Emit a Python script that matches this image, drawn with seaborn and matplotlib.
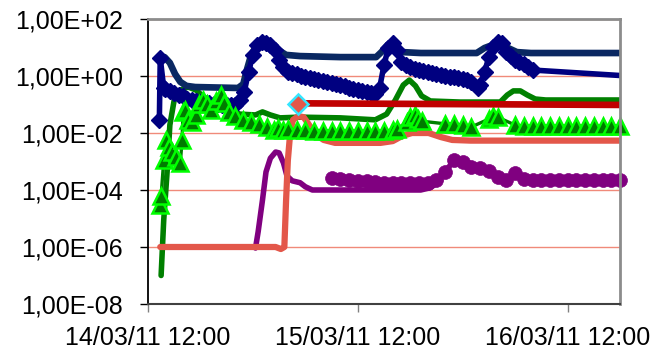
import numpy as np
import pandas as pd
import matplotlib
matplotlib.use("Agg")
import matplotlib.pyplot as plt
import matplotlib.dates as mdates
from matplotlib.ticker import FixedLocator, FuncFormatter, NullLocator
import seaborn as sns

# ---------------- data (hours after 14/03/11 12:00, values) ----------------
A_h = [1.9, 2.5, 3.1, 3.7, 4.4, 5.4, 10.3, 10.9, 11.3, 11.8, 12.4, 13.1, 14.0, 14.9, 15.8, 17.4,
       22.0, 26.1, 26.7, 27.4, 28.2, 29.1, 31.2, 37.6, 38.5, 39.4, 40.3, 41.2, 42.2, 43.8, 58.6]
A_v = [4.6, 2.9, 1.17, 0.62, 0.45, 0.41, 0.38, 0.52, 1.6, 5.5, 11.3, 12.2, 11.3, 8.2, 5.5, 5.0,
       4.6, 4.6, 6.9, 12.2, 11.3, 6.9, 6.4, 6.4, 9.6, 12.2, 14.4, 9.6, 6.9, 6.4, 6.4]

B_h = [1.3, 1.4, 1.8, 2, 2.5, 3, 3.5, 4, 4.5, 5, 5.5, 6, 6.5, 7, 7.5, 8, 8.5, 9, 9.5, 10,
       10.5, 11, 11.5, 12, 12.5, 13, 13.5, 14, 14.5, 15, 15.5, 16, 16.5, 17, 17.5, 18, 18.5, 19,
       19.5, 20, 20.5, 21, 21.5, 22, 22.5, 23, 23.5, 24, 24.5, 25, 25.5, 26, 26.5, 27, 27.5, 28,
       28.5, 29, 29.5, 30, 30.5, 31, 31.5, 32, 32.5, 33, 33.5, 34, 34.5, 35, 35.5, 36, 36.5, 37,
       37.7, 38, 38.5, 39, 39.5, 40, 40.5, 41, 41.5, 42, 42.5, 43, 43.5, 44, 58.6]
B_v = [0.029, 4.3, 0.38, 0.35, 0.30, 0.25, 0.215, 0.2, 0.16, 0.144, 0.133, 0.122, 0.117, 0.113,
       0.108, 0.104, 0.1, 0.096, 0.096, 0.096,
       0.144, 0.27, 1.38, 5.5, 12.2, 15.6, 14.4, 12.2, 8.2, 3.6, 2.07, 1.38, 1.27, 1.17, 1.0, 0.92,
       0.85, 0.78, 0.72, 0.67, 0.62, 0.57, 0.52, 0.48, 0.43, 0.38, 0.35, 0.32, 0.30, 0.27, 0.25,
       0.23, 0.38, 2.43, 9.6, 14.4, 8.2, 3.1, 2.43, 2.07, 1.83, 1.62, 1.5, 1.38, 1.27, 1.17, 1.08,
       1.0, 0.96, 0.92, 0.85, 0.78, 0.7, 0.62,
       0.38, 0.48, 1.38, 4.6, 10.4, 15.6, 14.4, 6.9, 5.0, 3.6, 3.1, 2.6, 2.07, 1.62, 0.85]

C_h = [17.2, 58.6]
C_v = [0.11, 0.095]

M_h = [17.2]
M_v = [0.105]

D_h = [1.5, 1.8, 2.2, 2.5, 3.0, 3.7, 4.6, 5.5, 6.5, 8.3, 10.5, 12.3, 13.1, 14.0, 15.1, 17.4, 22.0,
       26.0, 27.3, 28.3, 29.2, 29.9, 30.6, 31.3, 32.3, 35.7, 40.3, 41.1, 41.8, 42.6, 43.4, 44.3,
       45.5, 58.6]
D_v = [1e-7, 8.9e-6, 5e-4, 0.019, 0.144, 0.32, 0.41, 0.32, 0.17, 0.089, 0.046, 0.043, 0.055,
       0.043, 0.034, 0.036, 0.034, 0.029, 0.046, 0.144, 0.48, 0.72, 0.45, 0.2, 0.133, 0.122,
       0.122, 0.215, 0.3, 0.3, 0.215, 0.156, 0.144, 0.144]

E_h = [1.4, 1.5, 1.8, 2.1, 2.4, 2.8, 3.2, 3.7, 3.9, 4.0, 4.2, 4.6, 5.0, 5.5, 5.8, 6.3, 6.8, 7.2,
       7.8, 8.3, 8.7, 9.3, 10.0, 10.9, 11.8, 12.7, 13.6, 14.4, 14.9, 15.5,
       16, 17, 18, 19, 20, 21, 22, 23, 24, 25, 26, 27, 28, 28.5, 29.6, 30.0, 30.5, 30.9, 31.3,
       34, 35, 36, 37, 39, 39.5, 40, 42, 43, 44, 45, 46, 47, 48, 49, 50, 51, 52, 53, 54]
E_v = [3.0e-5, 6.2e-5, 1.1e-3, 5.7e-3, 3.2e-3, 2.2e-3, 1.4e-3, 8.9e-4, 5.7e-3, 0.055, 0.064,
       0.029, 0.024, 0.043, 0.104, 0.144, 0.104, 0.064, 0.133, 0.215, 0.113, 0.055, 0.039, 0.029,
       0.024, 0.021, 0.0163, 0.0127, 0.015, 0.0127,
       0.0139, 0.0127, 0.0127, 0.0122, 0.0122, 0.0117, 0.0117, 0.0117, 0.0117, 0.0117, 0.0117,
       0.0117, 0.0127, 0.0139, 0.024, 0.036, 0.043, 0.031, 0.026,
       0.021, 0.021, 0.019, 0.0163, 0.031, 0.039, 0.036, 0.019, 0.0176, 0.0176, 0.0176, 0.0176,
       0.0176, 0.0176, 0.0176, 0.0176, 0.0176, 0.0176, 0.0176, 0.0176]

F_h = [1.4, 14.6, 15.2, 15.6, 15.8, 16.0, 16.3, 16.6, 17.2, 17.8, 18.3, 19.1, 20.1, 21.4, 26.6,
       28.0, 29.1, 30.2, 32.1, 33.5, 34.8, 36.9, 58.6]
F_v = [1e-6, 1e-6, 8.5e-7, 1e-6, 4.5e-5, 1.1e-3, 1.3e-2, 2.9e-2, 3.9e-2, 3.6e-2, 2.2e-2, 9.2e-3,
       5.7e-3, 4.5e-3, 4.5e-3, 5.2e-3, 7.9e-3, 1.0e-2, 1.0e-2, 7.2e-3, 5.7e-3, 5.4e-3, 5.4e-3]

G1_h = [12.3, 12.6, 13.1, 13.5, 14.0, 14.6, 15.0, 15.5, 15.9, 16.5, 17.4, 18.0, 18.8, 20.9, 31.2,
        32.3, 33.5]
G1_v = [9.2e-7, 3.4e-6, 4.5e-5, 4.3e-4, 1.3e-3, 2.15e-3, 2.0e-3, 8.9e-4, 3.1e-4, 2.1e-4, 1.8e-4,
        1.3e-4, 1.0e-4, 1.0e-4, 1.0e-4, 1.2e-4, 2.2e-4]

G2_h = list(range(21, 55))
G2_v = [2.6e-4, 2.4e-4, 2.2e-4, 2.1e-4, 2.1e-4, 1.9e-4, 1.8e-4, 1.8e-4, 1.7e-4, 1.7e-4, 1.7e-4,
        1.8e-4, 2.2e-4, 4.3e-4, 1.1e-3, 9.6e-4, 6.4e-4, 5.9e-4, 4.6e-4, 2.9e-4, 2.2e-4, 3.9e-4,
        2.4e-4, 2.2e-4, 2.2e-4, 2.2e-4, 2.2e-4, 2.2e-4, 2.2e-4, 2.2e-4, 2.2e-4, 2.2e-4, 2.2e-4,
        2.2e-4]

tick_hours = [0, 24, 48]
xlim_hours = [0, 54]
y_ticks = [1e-8, 1e-6, 1e-4, 1e-2, 1e0, 1e2]

# ---------------- plotting ----------------
sns.set_style("ticks")
plt.rcParams['font.family'] = ['Liberation Sans', 'DejaVu Sans']

fig = plt.figure(figsize=(6.59, 3.5), dpi=100)
ax = fig.add_axes([148 / 659, 1 - 304 / 350, 472 / 659, 285 / 350])

base = pd.Timestamp('2011-03-14 12:00')


def t(hours):
    return base + pd.to_timedelta(np.asarray(hours, dtype=float), unit='h')


def draw(h, v, **kw):
    kw.setdefault('solid_capstyle', 'round')
    kw.setdefault('solid_joinstyle', 'round')
    sns.lineplot(x=t(h), y=v, ax=ax, sort=False, estimator=None, **kw)


draw(D_h, D_v, color='#008000', linewidth=4.0)
draw(A_h, A_v, color='#0A2862', linewidth=4.8)
draw(B_h, B_v, color='#000080', linewidth=4.0, marker='D', markersize=8,
     markerfacecolor='#000080', markeredgecolor='#000080', markeredgewidth=1)
draw(G1_h, G1_v, color='#800080', linewidth=4.0)
draw(G2_h, G2_v, color='#800080', linewidth=4.0, marker='o', markersize=10,
     markerfacecolor='#800080', markeredgecolor='#800080', markeredgewidth=0.5, clip_on=False)
draw(F_h, F_v, color='#E3574A', linewidth=4.5)
draw(E_h, E_v, color='#008000', linewidth=2.4, marker='^', markersize=11,
     markerfacecolor='#007A00', markeredgecolor='#00FF00', markeredgewidth=1.8, clip_on=False)
draw(C_h, C_v, color='#C00000', linewidth=4.8)
draw(M_h, M_v, color='#E3574A', linewidth=0, marker='D', markersize=10,
     markerfacecolor='#E3574A', markeredgecolor='#33E6FF', markeredgewidth=1.8)

ax.set_yscale('log')
ax.set_ylim(1e-8, 1e2)
ax.yaxis.set_major_locator(FixedLocator(y_ticks))
ax.yaxis.set_minor_locator(NullLocator())
ax.yaxis.set_major_formatter(FuncFormatter(
    lambda v, p: "1,00E{:+03d}".format(int(round(np.log10(v))))))

ax.set_xlim(t(xlim_hours)[0], t(xlim_hours)[1])
ax.set_xticks(t(tick_hours))
ax.xaxis.set_major_formatter(mdates.DateFormatter('%d/%m/%y %H:%M'))
ax.xaxis.set_minor_locator(NullLocator())

ax.set_xlabel('')
ax.set_ylabel('')

ax.grid(True, axis='y', color='#F08A7A', linewidth=1.0)
ax.grid(False, axis='x')
ax.set_axisbelow(True)

ax.tick_params(axis='y', direction='out', length=6, width=1, pad=12, labelsize=18,
               color='#000000', labelcolor='#000000')
ax.tick_params(axis='x', direction='out', length=6, width=1, pad=10, labelsize=18,
               color='#808080', labelcolor='#000000')

for side in ['top', 'right']:
    ax.spines[side].set_visible(True)
    ax.spines[side].set_color('#8C8C8C')
    ax.spines[side].set_linewidth(2)
ax.spines['left'].set_color('#000000')
ax.spines['left'].set_linewidth(1.3)
ax.spines['bottom'].set_color('#404040')
ax.spines['bottom'].set_linewidth(1.5)

fig.savefig('out.png', dpi=100)
